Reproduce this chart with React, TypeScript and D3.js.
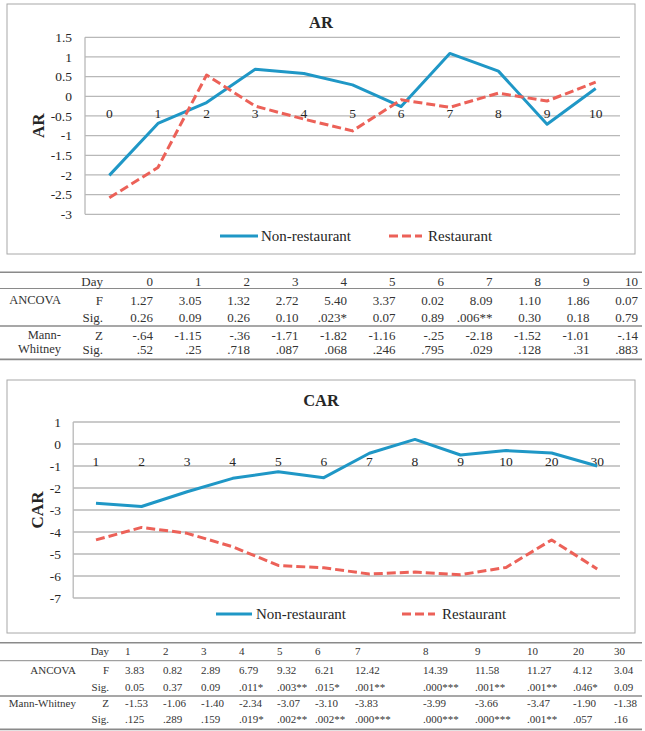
import React from "react";
import * as d3 from "d3";

// ---------- data ----------
const AR_DAYS = ["0", "1", "2", "3", "4", "5", "6", "7", "8", "9", "10"];
const AR_NON = [-2.01, -0.69, -0.16, 0.69, 0.58, 0.29, -0.26, 1.09, 0.64, -0.71, 0.2];
const AR_REST = [-2.58, -1.81, 0.54, -0.25, -0.58, -0.88, -0.09, -0.28, 0.08, -0.12, 0.36];
const AR_TICKS = [-3, -2.5, -2, -1.5, -1, -0.5, 0, 0.5, 1, 1.5];

const CAR_DAYS = ["1", "2", "3", "4", "5", "6", "7", "8", "9", "10", "20", "30"];
const CAR_NON = [-2.69, -2.84, -2.17, -1.56, -1.26, -1.53, -0.42, 0.21, -0.5, -0.3, -0.41, -1.0];
const CAR_REST = [-4.36, -3.79, -4.06, -4.67, -5.52, -5.63, -5.91, -5.82, -5.94, -5.61, -4.36, -5.68];
const CAR_TICKS = [-7, -6, -5, -4, -3, -2, -1, 0, 1];

const SERIES_NAMES = ["Non-restaurant", "Restaurant"];

const T1_F = ["1.27", "3.05", "1.32", "2.72", "5.40", "3.37", "0.02", "8.09", "1.10", "1.86", "0.07"];
const T1_FSIG = ["0.26", "0.09", "0.26", "0.10", ".023*", "0.07", "0.89", ".006**", "0.30", "0.18", "0.79"];
const T1_Z = ["-.64", "-1.15", "-.36", "-1.71", "-1.82", "-1.16", "-.25", "-2.18", "-1.52", "-1.01", "-.14"];
const T1_ZSIG = [".52", ".25", ".718", ".087", ".068", ".246", ".795", ".029", ".128", ".31", ".883"];

const T2_F = ["3.83", "0.82", "2.89", "6.79", "9.32", "6.21", "12.42", "14.39", "11.58", "11.27", "4.12", "3.04"];
const T2_FSIG = ["0.05", "0.37", "0.09", ".011*", ".003**", ".015*", ".001**", ".000***", ".001**", ".001**", ".046*", "0.09"];
const T2_Z = ["-1.53", "-1.06", "-1.40", "-2.34", "-3.07", "-3.10", "-3.83", "-3.99", "-3.66", "-3.47", "-1.90", "-1.38"];
const T2_ZSIG = [".125", ".289", ".159", ".019*", ".002**", ".002**", ".000***", ".000***", ".000***", ".001**", ".057", ".16"];

// ---------- style ----------
const FONT = "'Liberation Serif', 'Times New Roman', serif";
const BLUE = "#1f97c6";
const RED = "#ec6158";
const GRID = "#b8b8b8";
const TXT = "#262626";

type ChartProps = {
  frame: [number, number, number, number];
  title: string;
  titleY: number;
  days: string[];
  non: number[];
  rest: number[];
  ticks: number[];
  plot: { l: number; r: number; t: number; b: number };
  tickRight: number;
  axisTitleX: number;
  legend: { y: number; b0: number; b1: number; bt: number; r0: number; r1: number; rt: number };
};

function Chart(p: ChartProps) {
  const x = d3.scaleBand<string>().domain(p.days).range([p.plot.l, p.plot.r]).padding(0);
  const y = d3
    .scaleLinear()
    .domain([d3.min(p.ticks) as number, d3.max(p.ticks) as number])
    .range([p.plot.b, p.plot.t]);
  const cx = (d: string) => (x(d) as number) + x.bandwidth() / 2;
  const line = d3
    .line<number>()
    .x((_, i) => cx(p.days[i]))
    .y((v) => y(v));
  const [fx, fy, fw, fh] = p.frame;
  return (
    <g fontFamily={FONT}>
      <rect x={fx} y={fy} width={fw} height={fh} fill="#fff" stroke="#a8a8a8" strokeWidth={1} />
      <text x={fx + fw / 2} y={p.titleY} textAnchor="middle" dy="0.35em" fontWeight="bold" fontSize={16.5} fill={TXT}>
        {p.title}
      </text>
      {p.ticks.map((t) => (
        <g key={t}>
          <line x1={p.plot.l} x2={p.plot.r} y1={y(t)} y2={y(t)} stroke={GRID} strokeWidth={1.3} />
          <text x={p.tickRight} y={y(t)} dy="0.35em" textAnchor="end" fontSize={13.5} fill={TXT}>
            {String(t)}
          </text>
        </g>
      ))}
      <line x1={p.plot.l} x2={p.plot.l} y1={p.plot.t} y2={p.plot.b} stroke={GRID} strokeWidth={1.3} />
      {p.days.map((d) => (
        <text key={d} x={cx(d)} y={y(0) + 17} dy="0.35em" textAnchor="middle" fontSize={13.5} fill={TXT}>
          {d}
        </text>
      ))}
      <text
        transform={`translate(${p.axisTitleX},${(p.plot.t + p.plot.b) / 2}) rotate(-90)`}
        textAnchor="middle"
        dy="0.35em"
        fontWeight="bold"
        fontSize={17}
        fill={TXT}
      >
        {p.title}
      </text>
      <path d={line(p.non) || ""} fill="none" stroke={BLUE} strokeWidth={3} strokeLinejoin="round" />
      <path d={line(p.rest) || ""} fill="none" stroke={RED} strokeWidth={3} strokeDasharray="9,4" strokeLinejoin="round" />
      <line x1={p.legend.b0} x2={p.legend.b1} y1={p.legend.y} y2={p.legend.y} stroke={BLUE} strokeWidth={3} />
      <text x={p.legend.bt} y={p.legend.y} dy="0.35em" fontSize={15} fill={TXT}>
        {SERIES_NAMES[0]}
      </text>
      <line x1={p.legend.r0} x2={p.legend.r1} y1={p.legend.y} y2={p.legend.y} stroke={RED} strokeWidth={3} strokeDasharray="9,4" />
      <text x={p.legend.rt} y={p.legend.y} dy="0.35em" fontSize={15} fill={TXT}>
        {SERIES_NAMES[1]}
      </text>
    </g>
  );
}

type Row = { a?: string; b: string; vals: string[]; y: number; a2?: string };

function Table(p: {
  rows: Row[];
  lines: { y: number; w: number }[];
  fontSize: number;
  aRight: number;
  bRight: number;
  colX: (i: number) => number;
  valAnchor: "start" | "end";
  aSize?: number;
}) {
  return (
    <g fontFamily={FONT} fill="#333" fontSize={p.fontSize}>
      {p.lines.map((l, i) => (
        <line key={i} x1={0} x2={642} y1={l.y} y2={l.y} stroke="#8a8a8a" strokeWidth={l.w} />
      ))}
      {p.rows.map((r, ri) => (
        <g key={ri}>
          {r.a && (
            <text x={p.aRight} y={r.y} dy="0.35em" textAnchor="end" fontSize={p.aSize || p.fontSize}>
              {r.a}
            </text>
          )}
          <text x={p.bRight} y={r.y} dy="0.35em" textAnchor="end">
            {r.b}
          </text>
          {r.vals.map((v, i) => (
            <text key={i} x={p.colX(i)} y={r.y} dy="0.35em" textAnchor={p.valAnchor}>
              {v}
            </text>
          ))}
        </g>
      ))}
    </g>
  );
}

const T2_COLX = [125, 163, 201, 239, 277, 315, 355, 423, 475, 527, 573, 614];

export default function App() {
  return (
    <svg
      width={645}
      height={731}
      style={{ position: "absolute", left: 0, top: 0, background: "#fff" }}
    >
      <rect x={0} y={0} width={645} height={731} fill="#fff" />
      <Chart
        frame={[7, 4, 628, 250]}
        title="AR"
        titleY={22}
        days={AR_DAYS}
        non={AR_NON}
        rest={AR_REST}
        ticks={AR_TICKS}
        plot={{ l: 85, r: 620, t: 37.3, b: 214.3 }}
        tickRight={72}
        axisTitleX={38}
        legend={{ y: 236, b0: 220, b1: 258, bt: 261, r0: 389, r1: 422, rt: 428 }}
      />
      <Table
        rows={[
          { b: "Day", vals: AR_DAYS, y: 281.7 },
          { a: "ANCOVA", b: "F", vals: T1_F, y: 300 },
          { b: "Sig.", vals: T1_FSIG, y: 317.7 },
          { a: "Mann-", b: "Z", vals: T1_Z, y: 335 },
          { a: "Whitney", b: "Sig.", vals: T1_ZSIG, y: 349 },
        ]}
        lines={[
          { y: 272.3, w: 1.6 },
          { y: 288.5, w: 1 },
          { y: 326, w: 1.6 },
          { y: 359.3, w: 1.8 },
        ]}
        fontSize={13}
        aSize={12.5}
        aRight={61}
        bRight={103}
        colX={(i) => 153 + 48.5 * i}
        valAnchor="end"
      />
      <Chart
        frame={[7, 380, 628, 253]}
        title="CAR"
        titleY={400}
        days={CAR_DAYS}
        non={CAR_NON}
        rest={CAR_REST}
        ticks={CAR_TICKS}
        plot={{ l: 73.2, r: 620, t: 422, b: 598 }}
        tickRight={61}
        axisTitleX={37}
        legend={{ y: 614, b0: 216, b1: 252, bt: 256, r0: 402, r1: 435, rt: 442 }}
      />
      <Table
        rows={[
          { b: "Day", vals: CAR_DAYS, y: 650.7 },
          { a: "ANCOVA", b: "F", vals: T2_F, y: 670 },
          { b: "Sig.", vals: T2_FSIG, y: 687.3 },
          { a: "Mann-Whitney", b: "Z", vals: T2_Z, y: 703.3 },
          { b: "Sig.", vals: T2_ZSIG, y: 719.3 },
        ]}
        lines={[
          { y: 642.7, w: 1.6 },
          { y: 660.7, w: 1 },
          { y: 696, w: 1.6 },
          { y: 729.3, w: 1.8 },
        ]}
        fontSize={11}
        aRight={76}
        bRight={109}
        colX={(i) => T2_COLX[i]}
        valAnchor="start"
      />
    </svg>
  );
}
